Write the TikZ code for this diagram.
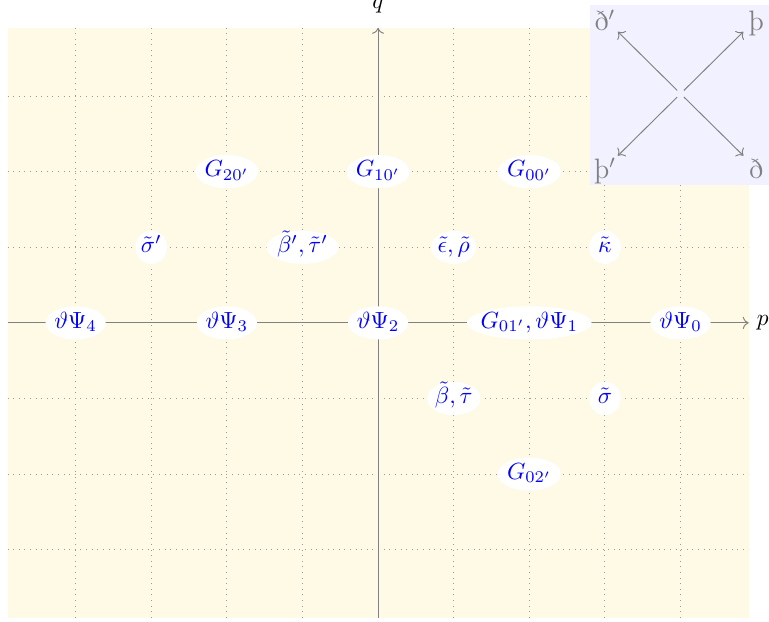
\documentclass[tikz,border=0pt]{standalone}
\usepackage{amsmath}
\usetikzlibrary{calc}
\usetikzlibrary{arrows.meta}
\usetikzlibrary{shapes.geometric}

\definecolor{bgyellow}{RGB}{254,250,230}
\definecolor{bgblue}{RGB}{241,241,255}

\tikzset{
    wt/.style={ellipse, fill=white, text=blue, inner sep=0pt,
        text height=6pt, text depth=1.5pt, minimum height=14.2pt, minimum width=13.5pt},
    crn/.style={text=gray, inner sep=0.5pt, anchor=base, font=\large},
}

\begin{document}
\begin{tikzpicture}[scale=1.136]

    \useasboundingbox (-5.0, -3.955) rectangle (5.17, 4.27);

    \coordinate (SW) at (-4.9, -3.9);
    \coordinate (NE) at (4.9, 3.9);
    \coordinate (P0) at (-4.9, 0);
    \coordinate (P1) at (4.9, 0);
    \coordinate (Q0) at (0, -3.9);
    \coordinate (Q1) at (0, 3.9);

    \fill[bgyellow] (SW) rectangle (NE);
    \draw[gray!80, dotted] (SW) grid (NE);

    \draw[gray, ->] (P0) -- (P1);
    \draw[gray, ->] (Q0) -- (Q1);
    \node[right] (plab) at (P1) {$p$};
    \node[anchor=base] (qlab) at (0, 4.16) {$q$};

    \node[wt] (T4) at (-4, 0) {$\vartheta\Psi_4$};
    \node[wt] (T3) at (-2, 0) {$\vartheta\Psi_3$};
    \node[wt] (T2) at (0, 0) {$\vartheta\Psi_2$};
    \node[wt, inner xsep=-2pt] (T1) at (2, 0) {$G_{01'}, \vartheta\Psi_1$};
    \node[wt] (T0) at (4, 0) {$\vartheta\Psi_0$};

    \node[wt] (G20) at (-2, 2) {$G_{20'}$};
    \node[wt] (G10) at (0, 2) {$G_{10'}$};
    \node[wt] (G00) at (2, 2) {$G_{00'}$};
    \node[wt] (G02) at (2, -2) {$G_{02'}$};

    \node[wt] (sigp) at (-3, 1) {$\tilde{\sigma}'$};
    \node[wt] (betp) at (-1, 1) {$\tilde{\beta}', \tilde{\tau}'$};
    \node[wt] (eps) at (1, 1) {$\tilde{\epsilon}, \tilde{\rho}$};
    \node[wt] (kap) at (3, 1) {$\tilde{\kappa}$};
    \node[wt] (bet) at (1, -1) {$\tilde{\beta}, \tilde{\tau}$};
    \node[wt] (sig) at (3, -1) {$\tilde{\sigma}$};

    \coordinate (C) at (4, 3.03);

    \fill[bgblue] (2.8, 1.83) rectangle (5.17, 4.21);
    \node[crn] (ethp) at ($(C) + (-1, 0.83)$) {ð$'$};
    \node[crn] (thorn) at ($(C) + (1, 0.83)$) {þ};
    \node[crn] (thornp) at ($(C) + (-1, -1.12)$) {þ$'$};
    \node[crn] (eth) at ($(C) + (1, -1.12)$) {ð};

    \coordinate (A1) at ($(C) + (-0.83, 0.82)$);
    \coordinate (A2) at ($(C) + (0.83, 0.82)$);
    \coordinate (A3) at ($(C) + (-0.83, -0.82)$);
    \coordinate (A4) at ($(C) + (0.83, -0.82)$);

    \draw[gray, ->, shorten <=2pt] (C) -- (A1);
    \draw[gray, ->, shorten <=2pt] (C) -- (A2);
    \draw[gray, ->, shorten <=2pt] (C) -- (A3);
    \draw[gray, ->, shorten <=2pt] (C) -- (A4);

\end{tikzpicture}
\end{document}
